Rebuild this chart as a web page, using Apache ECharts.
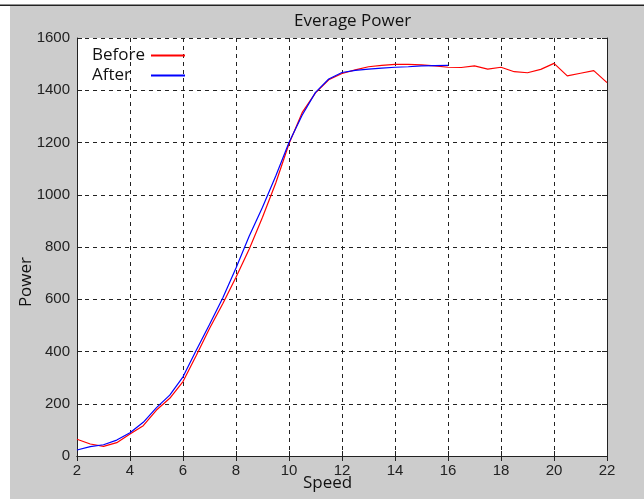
<!DOCTYPE html>
<html>
<head>
<meta charset="utf-8">
<script src="https://cdn.jsdelivr.net/npm/echarts@6/dist/echarts.min.js"></script>
<style>
html,body{margin:0;padding:0;background:#fff;}
#chart{width:644px;height:499px;}
</style>
</head>
<body>
<div id="chart"></div>
<script>
var titleText = "Everage Power";
var xName = "Speed";
var yName = "Power";
var xTicks = [2, 4, 6, 8, 10, 12, 14, 16, 18, 20, 22];
var yTicks = [0, 200, 400, 600, 800, 1000, 1200, 1400, 1600];

var beforeSpeed = [2, 2.5, 3, 3.5, 4, 4.5, 5, 5.5, 6, 6.5, 7, 7.5, 8, 8.5, 9, 9.5, 10, 10.5, 11, 11.5, 12, 12.5, 13, 13.5, 14, 14.5, 15, 15.5, 16, 16.5, 17, 17.5, 18, 18.5, 19, 19.5, 20, 20.5, 21, 21.5, 22];
var beforePower = [64, 46, 37, 51, 84, 116, 176, 221, 285, 385, 488, 583, 684, 792, 914, 1045, 1195, 1315, 1390, 1440, 1464, 1478, 1490, 1495, 1499, 1499, 1497, 1493, 1488, 1487, 1493, 1481, 1488, 1471, 1467, 1480, 1503, 1455, 1465, 1475, 1429];

var afterSpeed = [2, 2.5, 3, 3.5, 4, 4.5, 5, 5.5, 6, 6.5, 7, 7.5, 8, 8.5, 9, 9.5, 10, 10.5, 11, 11.5, 12, 12.5, 13, 13.5, 14, 14.5, 15, 15.5, 16];
var afterPower = [23, 36, 43, 61, 89, 129, 185, 233, 303, 405, 503, 605, 720, 842, 952, 1072, 1200, 1305, 1392, 1443, 1468, 1476, 1481, 1485, 1488, 1490, 1493, 1494, 1495];

function pairs(xs, ys) {
  var out = [];
  for (var i = 0; i < xs.length; i++) out.push([xs[i], ys[i]]);
  return out;
}

var FONT = '"Open Sans", "Noto Sans", sans-serif';
var TICKFONT = '"Liberation Sans", Arial, sans-serif';
var chart = echarts.init(document.getElementById('chart'), null, {renderer: 'canvas'});

var gridLeft = 77, gridRight = 37, gridTop = 38, gridBottom = 43;

var axisCommon = {
  type: 'value',
  axisLine: {show: true, lineStyle: {color: '#222', width: 1}},
  axisTick: {show: true, inside: true, length: 5, lineStyle: {color: '#222'}},
  splitLine: {show: false},
  axisLabel: {show: false}
};

var legendCommon = {
  orient: 'vertical',
  left: 87,
  align: 'right',
  itemWidth: 34,
  itemHeight: 2,
  itemGap: 4,
  icon: 'rect',
  formatter: function (name) { return '{t|' + name + '}'; },
  textStyle: {
    color: '#111',
    rich: {t: {fontFamily: FONT, fontSize: 17, color: '#111', width: 54, align: 'left'}}
  }
};

chart.setOption({
  animation: false,
  backgroundColor: '#ffffff',
  graphic: [
    {type: 'rect', shape: {x: 10, y: 6, width: 634, height: 493}, style: {fill: '#cccccc'}, z: -10},
    {type: 'rect', shape: {x: 0, y: 4.5, width: 644, height: 1.5}, style: {fill: '#222'}, z: -9},
    {type: 'rect', shape: {x: gridLeft, y: gridTop, width: 644 - gridLeft - gridRight, height: 499 - gridTop - gridBottom}, style: {fill: '#ffffff'}, z: -8},
    {type: 'text', left: 303, top: 475, style: {text: xName, font: '17px ' + FONT, fill: '#111'}},
    {type: 'text', left: 18, top: 257, rotation: Math.PI / 2, style: {text: yName, font: '17px ' + FONT, fill: '#111'}}
  ],
  title: {
    text: titleText,
    left: 289,
    top: 8,
    textStyle: {fontFamily: FONT, fontSize: 17, fontWeight: 'normal', color: '#111'}
  },
  legend: [
    Object.assign({}, legendCommon, {top: 42, data: ['Before']}),
    Object.assign({}, legendCommon, {top: 62, data: ['After']})
  ],
  grid: {left: gridLeft, right: gridRight, top: gridTop, bottom: gridBottom},
  xAxis: [
    {
      type: 'value', min: xTicks[0], max: xTicks[xTicks.length - 1], interval: 2,
      axisLine: {show: true, onZero: false, lineStyle: {color: '#222', width: 1}},
      axisTick: {show: true, inside: true, length: 5, lineStyle: {color: '#222'}},
      axisLabel: {color: '#222', fontFamily: TICKFONT, fontSize: 15, margin: 7, formatter: function (v) { return String(v); }},
      splitLine: {show: true, lineStyle: {color: '#222', type: [4, 4], width: 1}}
    },
    Object.assign({}, axisCommon, {position: 'top', min: xTicks[0], max: xTicks[xTicks.length - 1], interval: 2})
  ],
  yAxis: [
    {
      type: 'value', min: yTicks[0], max: yTicks[yTicks.length - 1], interval: 200,
      axisLine: {show: true, onZero: false, lineStyle: {color: '#222', width: 1}},
      axisTick: {show: true, inside: true, length: 5, lineStyle: {color: '#222'}},
      axisLabel: {color: '#222', fontFamily: TICKFONT, fontSize: 15, margin: 7, formatter: function (v) { return String(v); }},
      splitLine: {show: true, lineStyle: {color: '#222', type: [4, 4], width: 1}}
    },
    Object.assign({}, axisCommon, {position: 'right', min: yTicks[0], max: yTicks[yTicks.length - 1], interval: 200})
  ],
  series: [
    {
      name: 'Before', type: 'line', data: pairs(beforeSpeed, beforePower),
      showSymbol: false, symbol: 'none', lineStyle: {color: '#ff0000', width: 1.2}, itemStyle: {color: '#ff0000'}, z: 3
    },
    {
      name: 'After', type: 'line', data: pairs(afterSpeed, afterPower),
      showSymbol: false, symbol: 'none', lineStyle: {color: '#0000ff', width: 1.2}, itemStyle: {color: '#0000ff'}, z: 4
    }
  ]
});
</script>
</body>
</html>
